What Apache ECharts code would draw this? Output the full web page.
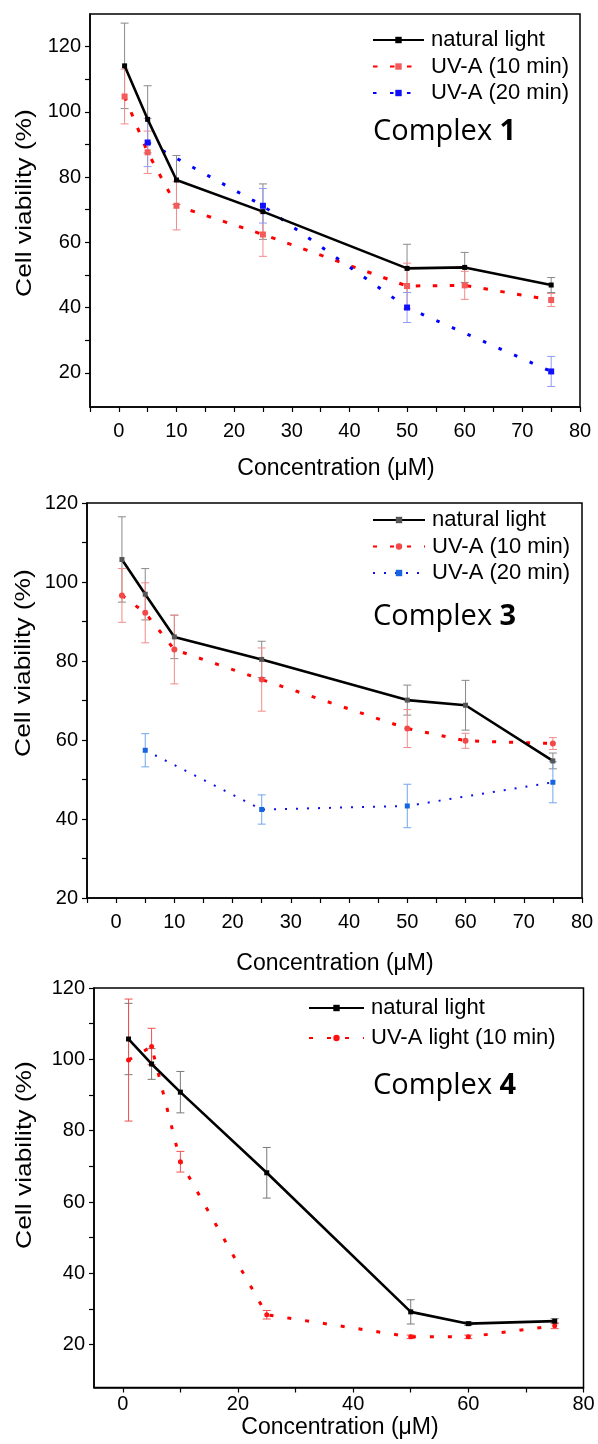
<!DOCTYPE html>
<html>
<head>
<meta charset="utf-8">
<script src="https://cdn.jsdelivr.net/npm/echarts@6/dist/echarts.min.js"></script>
<style>
html,body{margin:0;padding:0;background:#fff;}
#c{width:598px;height:1444px;}
</style>
</head>
<body>
<div id="c"></div>
<script>
// ---------- data ----------
const conc = [1, 5, 10, 25, 50, 60, 75];
const conc20 = [5, 25, 50, 75];

// Complex 1
const c1Natural    = [114.1, 97.7, 79.1, 69.4, 52.0, 52.3, 46.9];
const c1NaturalErr = [13.1, 10.3, 7.5, 8.5, 7.4, 4.6, 2.3];
const c1Uva10      = [104.7, 87.6, 71.2, 62.4, 46.6, 46.8, 42.3];
const c1Uva10Err   = [8.4, 6.5, 7.4, 6.7, 7.0, 4.3, 2.0];
const c1Uva20      = [90.6, 71.2, 40.0, 20.4];
const c1Uva20Err   = [7.4, 5.3, 4.6, 4.6];

// Complex 3
const c3Natural    = [105.7, 96.9, 86.1, 80.4, 70.1, 68.8, 54.7];
const c3NaturalErr = [10.8, 6.5, 5.5, 4.6, 3.8, 6.3, 2.0];
const c3Uva10      = [96.6, 92.2, 82.9, 75.3, 62.9, 59.8, 59.1];
const c3Uva10Err   = [6.8, 7.6, 8.7, 8.0, 4.8, 1.9, 1.5];
const c3Uva20      = [57.4, 42.4, 43.3, 49.3];
const c3Uva20Err   = [4.2, 3.7, 5.5, 5.2];

// Complex 4
const c4Natural    = [105.7, 98.7, 90.8, 68.2, 29.2, 25.9, 26.6];
const c4NaturalErr = [10.0, 4.3, 5.8, 7.1, 3.4, 0.5, 0.7];
const c4Uva10      = [99.8, 103.6, 71.3, 28.4, 22.2, 22.2, 25.3];
const c4Uva10Err   = [17.1, 5.1, 2.9, 1.2, 0.5, 0.5, 0.8];

// ticks
const xTicks13  = [-5, 0, 5, 10, 15, 20, 25, 30, 35, 40, 45, 50, 55, 60, 65, 70, 75, 80];
const xLabels13 = [0, 10, 20, 30, 40, 50, 60, 70, 80];
const xTicks4   = [0, 10, 20, 30, 40, 50, 60, 70, 80];
const xLabels4  = [0, 20, 40, 60, 80];
const yTicks1   = [20, 30, 40, 50, 60, 70, 80, 90, 100, 110, 120];
const yTicks3   = [20, 30, 40, 50, 60, 70, 80, 90, 100, 110, 120];
const yTicks4   = [20, 30, 40, 50, 60, 70, 80, 90, 100, 110, 120];
const yLabels   = [20, 40, 60, 80, 100, 120];

const legendNames = ['natural light', 'UV-A (10 min)', 'UV-A (20 min)', 'UV-A light (10 min)'];

// ---------- build ----------
const FONT = 'Liberation Sans, Arial, sans-serif';
const grids = [
  {left: 90, top: 14, width: 490, height: 393},
  {left: 87, top: 503, width: 495, height: 395},
  {left: 94, top: 988, width: 489.5, height: 399.5}
];
const xRanges = [[-5, 80], [-5, 80], [-5, 80]];
const yRanges = [[9.5, 130], [20, 120], [8, 120]];
const xT = [xTicks13, xTicks13, xTicks4];
const xL = [xLabels13, xLabels13, xLabels4];
const yT = [yTicks1, yTicks3, yTicks4];
const xMargins = [14, 14, 7];

const option = {
  animation: false,
  backgroundColor: '#fff',
  grid: grids.map(g => Object.assign({show: true, borderColor: '#000', borderWidth: 1.5, containLabel: false}, g)),
  xAxis: grids.map((g, i) => ({
    type: 'value', gridIndex: i, min: xRanges[i][0], max: xRanges[i][1],
    axisLine: {show: true, onZero: false, lineStyle: {color: '#000', width: 1.5}},
    axisTick: {show: true, inside: false, length: 5, customValues: xT[i], lineStyle: {color: '#000', width: 1.2}},
    axisLabel: {customValues: xL[i], margin: xMargins[i], color: '#000', fontSize: 20, fontFamily: FONT},
    splitLine: {show: false}
  })),
  yAxis: grids.map((g, i) => ({
    type: 'value', gridIndex: i, min: yRanges[i][0], max: yRanges[i][1],
    axisLine: {show: true, onZero: false, lineStyle: {color: '#000', width: 1.5}},
    axisTick: {show: true, inside: false, length: 5, customValues: yT[i], lineStyle: {color: '#000', width: 1.2}},
    axisLabel: {customValues: yLabels, margin: 9, color: '#000', fontSize: 20, fontFamily: FONT},
    splitLine: {show: false}
  })),
  legend: [],
  series: [],
  graphic: []
};

function errSeries(idx, xs, ys, es, color, cap) {
  return {
    type: 'custom', xAxisIndex: idx, yAxisIndex: idx, z: 1, silent: true,
    data: xs.map((x, i) => [x, ys[i], es[i]]),
    renderItem: function (params, api) {
      const x = api.value(0), y = api.value(1), e = api.value(2);
      const t = api.coord([x, y + e]);
      const b = api.coord([x, y - e]);
      const st = {stroke: color, lineWidth: 1};
      return {type: 'group', children: [
        {type: 'line', shape: {x1: t[0], y1: t[1], x2: b[0], y2: b[1]}, style: st},
        {type: 'line', shape: {x1: t[0] - cap, y1: t[1], x2: t[0] + cap, y2: t[1]}, style: st},
        {type: 'line', shape: {x1: b[0] - cap, y1: b[1], x2: b[0] + cap, y2: b[1]}, style: st}
      ]};
    }
  };
}
function lineSeries(idx, name, xs, ys, o) {
  return {
    type: 'line', name: 'p' + idx + '|' + name, xAxisIndex: idx, yAxisIndex: idx, z: o.z || 3,
    data: xs.map((x, i) => [x, ys[i]]),
    symbol: o.symbol || 'rect', symbolSize: o.size || 5, showSymbol: true,
    itemStyle: {color: o.mcolor || o.color},
    lineStyle: {color: o.color, width: o.width || 2.5, type: o.dash || 'solid'},
    emphasis: {disabled: true}
  };
}

const S = option.series;
// Panel 1
S.push(errSeries(0, conc, c1Natural, c1NaturalErr, '#8a8a8a', 4));
S.push(errSeries(0, conc, c1Uva10, c1Uva10Err, '#f28b8b', 4));
S.push(errSeries(0, conc20, c1Uva20, c1Uva20Err, '#8f9cf2', 4));
S.push(lineSeries(0, legendNames[0], conc, c1Natural, {color: '#000', width: 2.6, size: 5, z: 5}));
S.push(lineSeries(0, legendNames[1], conc, c1Uva10, {color: '#ff0000', mcolor: '#f55a5a', width: 3, dash: [4.5, 12.5], size: 6, z: 4}));
S.push(lineSeries(0, legendNames[2], conc20, c1Uva20, {color: '#0000ff', mcolor: '#1010ff', width: 3, dash: [3.5, 13.5], size: 6, z: 4}));
// Panel 3
S.push(errSeries(1, conc, c3Natural, c3NaturalErr, '#8a8a8a', 4));
S.push(errSeries(1, conc, c3Uva10, c3Uva10Err, '#f28b8b', 4));
S.push(errSeries(1, conc20, c3Uva20, c3Uva20Err, '#72a6ee', 4));
S.push(lineSeries(1, legendNames[0], conc, c3Natural, {color: '#000', mcolor: '#555', width: 2.6, size: 5, z: 5}));
S.push(lineSeries(1, legendNames[1], conc, c3Uva10, {color: '#ff0000', mcolor: '#f44848', width: 3, dash: [4, 13], symbol: 'circle', size: 6, z: 4}));
S.push(lineSeries(1, legendNames[2], conc20, c3Uva20, {color: '#1010e8', mcolor: '#1565e0', width: 2, dash: [2, 9], size: 5, z: 4}));
// Panel 4
S.push(errSeries(2, conc, c4Natural, c4NaturalErr, '#7a7a7a', 4));
S.push(errSeries(2, conc, c4Uva10, c4Uva10Err, '#f05050', 4));
S.push(lineSeries(2, legendNames[0], conc, c4Natural, {color: '#000', width: 2.6, size: 5, z: 5}));
S.push(lineSeries(2, legendNames[3], conc, c4Uva10, {color: '#ff0000', mcolor: '#ff1010', width: 3, dash: [4, 14], symbol: 'circle', size: 5, z: 4}));

const legendCfg = [
  {left: 372, top: 29, names: [0, 1, 2], w: 51, gap: 4.5},
  {left: 372, top: 509, names: [0, 1, 2], w: 52, gap: 4.5},
  {left: 308, top: 997, names: [0, 3], w: 55, gap: 8}
];
legendCfg.forEach((L, i) => {
  option.legend.push({
    orient: 'vertical', left: L.left, top: L.top, itemWidth: L.w, itemHeight: 8, itemGap: L.gap,
    selectedMode: false, padding: 0,
    data: L.names.map(k => 'p' + i + '|' + legendNames[k]),
    formatter: n => n.split('|')[1],
    textStyle: {fontSize: 22, fontFamily: FONT, color: '#000', padding: [0, 0, 0, 2]}
  });
});

const complexLabels = [
  {x: 373, y: 132, num: '1'},
  {x: 373, y: 617, num: '3'},
  {x: 373, y: 1086, num: '4'}
];
complexLabels.forEach(c => {
  option.graphic.push({
    type: 'text', x: c.x, y: c.y, silent: true,
    style: {
      text: '{a|Complex }{b|' + c.num + '}', verticalAlign: 'middle', align: 'left',
      rich: {
        a: {fontFamily: 'Open Sans', fontSize: 29, fill: '#000', color: '#000'},
        b: {fontFamily: 'Open Sans', fontSize: 29, fontWeight: 'bold', fill: '#000', color: '#000'}
      }
    }
  });
});

const yTitles = [{x: 25, y: 203}, {x: 24, y: 663}, {x: 25, y: 1155}];
yTitles.forEach(t => {
  option.graphic.push({
    type: 'text', x: t.x, y: t.y, rotation: Math.PI / 2, scaleX: 1.2, silent: true,
    style: {text: 'Cell viability (%)', fontFamily: FONT, fontSize: 22, fill: '#000', align: 'center', verticalAlign: 'middle'}
  });
});
const xTitles = [{x: 336, y: 469}, {x: 335, y: 964}, {x: 340, y: 1428}];
xTitles.forEach(t => {
  option.graphic.push({
    type: 'text', x: t.x, y: t.y, silent: true,
    style: {text: 'Concentration (μM)', fontFamily: FONT, fontSize: 23, fill: '#000', align: 'center', verticalAlign: 'middle'}
  });
});

const chart = echarts.init(document.getElementById('c'), null, {renderer: 'canvas'});
chart.setOption(option);
</script>
</body>
</html>
